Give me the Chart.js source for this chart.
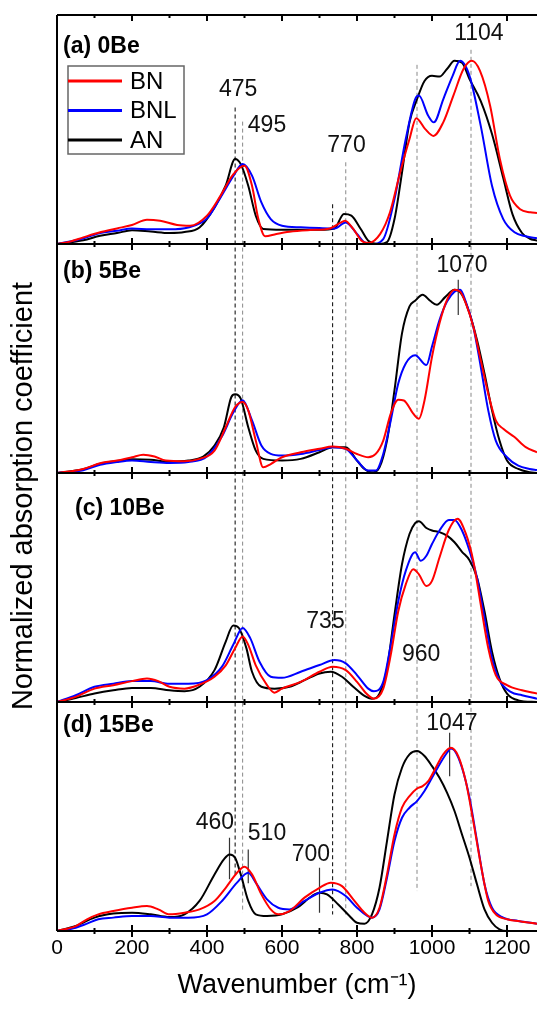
<!DOCTYPE html>
<html lang="en">
<head>
<meta charset="utf-8">
<title>Normalized absorption coefficient</title>
<script src="https://cdn.jsdelivr.net/npm/chart.js@4.4.1/dist/chart.umd.min.js"></script>
<style>
  html, body { margin: 0; padding: 0; background: #fff; overflow: hidden; }
  #wrap { position: relative; width: 537px; height: 1012px; }
</style>
</head>
<body>
<div id="wrap"><canvas id="chart"></canvas></div>
<script>
// panels top to bottom
const panelNames = ['(a) 0Be', '(b) 5Be', '(c) 10Be', '(d) 15Be'];
const panelNameX = [16, 16, 48, 16];
const panelNameV = [1.076, 1.098, 1.057, 1.12];
const seriesNames = ['BN', 'BNL', 'AN'];
const seriesColors = ['#ff0000', '#0000ff', '#000000'];
const yMax = 1.25;

// [wavenumber, normalized absorption]
const aBN = [[0,0],[35,0.013],[70,0.036],[115,0.064],[160,0.085],[200,0.104],[240,0.133],[275,0.127],[320,0.104],[355,0.1],[400,0.155],[435,0.26],[470,0.38],[500,0.427],[520,0.318],[537,0.136],[555,0.042],[585,0.055],[620,0.067],[675,0.076],[728,0.085],[755,0.115],[768,0.127],[790,0.082],[812,0.018],[830,0.005],[862,0.055],[888,0.173],[915,0.39],[940,0.573],[958,0.687],[982,0.627],[1004,0.59],[1030,0.664],[1057,0.81],[1084,0.955],[1106,1.0],[1128,0.945],[1155,0.755],[1181,0.464],[1208,0.264],[1235,0.19],[1262,0.173],[1280,0.169]];
const aBNL = [[0,0],[70,0.03],[115,0.06],[160,0.072],[200,0.085],[250,0.08],[300,0.08],[350,0.09],[400,0.14],[435,0.25],[470,0.37],[495,0.436],[520,0.373],[545,0.227],[570,0.136],[600,0.1],[650,0.091],[700,0.087],[740,0.085],[770,0.118],[800,0.055],[820,0.009],[840,0],[870,0.027],[900,0.245],[930,0.573],[955,0.79],[965,0.81],[990,0.7],[1005,0.664],[1030,0.79],[1055,0.918],[1075,1.0],[1100,0.918],[1130,0.645],[1160,0.318],[1190,0.136],[1220,0.064],[1250,0.042],[1280,0.031]];
const aAN = [[0,0],[70,0.02],[115,0.045],[160,0.06],[200,0.075],[250,0.068],[300,0.06],[340,0.065],[380,0.09],[420,0.2],[450,0.32],[475,0.464],[490,0.436],[510,0.318],[530,0.155],[550,0.082],[600,0.078],[650,0.078],[700,0.078],[740,0.085],[765,0.164],[785,0.155],[810,0.082],[830,0.018],[860,0],[880,0.01],[900,0.136],[920,0.39],[940,0.664],[960,0.79],[980,0.89],[1000,0.918],[1020,0.914],[1040,0.955],[1060,1.0],[1080,0.99],[1100,0.9],[1130,0.78],[1160,0.6],[1190,0.36],[1215,0.16],[1240,0.06],[1260,0.03],[1280,0.018]];

const bBN = [[0,0],[70,0.022],[115,0.053],[160,0.068],[200,0.086],[230,0.1],[260,0.09],[290,0.068],[340,0.064],[380,0.077],[420,0.122],[450,0.25],[475,0.36],[495,0.388],[510,0.342],[530,0.177],[550,0.031],[570,0.049],[600,0.086],[650,0.113],[700,0.132],[735,0.144],[770,0.132],[800,0.104],[830,0.086],[850,0.104],[870,0.177],[890,0.324],[910,0.4],[925,0.396],[950,0.324],[965,0.296],[980,0.396],[1000,0.634],[1020,0.817],[1040,0.945],[1060,1.0],[1075,0.99],[1090,0.927],[1110,0.8],[1130,0.616],[1150,0.433],[1170,0.287],[1190,0.241],[1220,0.196],[1250,0.141],[1280,0.113]];
const bBNL = [[0,0],[70,0.015],[115,0.045],[160,0.06],[200,0.068],[250,0.06],[300,0.055],[350,0.06],[400,0.09],[440,0.2],[470,0.33],[495,0.397],[520,0.287],[545,0.15],[570,0.104],[600,0.095],[650,0.104],[700,0.126],[735,0.141],[770,0.132],[800,0.068],[830,0.013],[850,0.013],[870,0.104],[890,0.287],[910,0.488],[930,0.598],[955,0.643],[985,0.589],[1000,0.69],[1020,0.835],[1040,0.936],[1060,0.99],[1075,1.0],[1090,0.936],[1110,0.8],[1130,0.58],[1150,0.342],[1170,0.177],[1200,0.086],[1230,0.04],[1260,0.022],[1280,0.016]];
const bAN = [[0,0],[70,0.02],[115,0.05],[160,0.065],[200,0.075],[250,0.072],[300,0.062],[350,0.068],[390,0.09],[420,0.15],[445,0.25],[465,0.415],[475,0.43],[490,0.406],[510,0.25],[530,0.122],[550,0.077],[600,0.068],[650,0.077],[700,0.113],[735,0.141],[770,0.141],[800,0.068],[820,0.022],[840,0.004],[860,0.031],[880,0.177],[900,0.452],[920,0.762],[940,0.909],[955,0.94],[975,0.973],[995,0.94],[1013,0.918],[1035,0.96],[1060,1.0],[1080,0.973],[1100,0.872],[1120,0.726],[1140,0.543],[1160,0.342],[1180,0.177],[1200,0.068],[1230,0.022],[1260,0.004],[1280,0]];

const cBN = [[0,0],[50,0.028],[100,0.073],[150,0.092],[200,0.114],[240,0.128],[270,0.114],[300,0.083],[340,0.073],[380,0.095],[420,0.138],[450,0.2],[475,0.294],[495,0.358],[510,0.312],[530,0.2],[560,0.092],[580,0.051],[600,0.073],[650,0.11],[700,0.165],[735,0.193],[770,0.174],[800,0.11],[825,0.046],[845,0.018],[870,0.073],[890,0.257],[910,0.495],[930,0.642],[950,0.725],[965,0.697],[985,0.633],[1000,0.661],[1020,0.789],[1045,0.94],[1068,1.0],[1090,0.92],[1110,0.771],[1130,0.532],[1150,0.294],[1170,0.147],[1200,0.092],[1240,0.064],[1280,0.046]];
const cBNL = [[0,0],[50,0.037],[100,0.083],[150,0.1],[200,0.114],[250,0.114],[300,0.1],[350,0.1],[400,0.12],[440,0.193],[470,0.312],[495,0.404],[515,0.35],[540,0.22],[570,0.138],[600,0.132],[650,0.165],[700,0.202],[740,0.229],[770,0.211],[800,0.147],[830,0.073],[845,0.059],[870,0.11],[890,0.312],[910,0.55],[930,0.716],[955,0.817],[970,0.771],[985,0.798],[1000,0.862],[1020,0.936],[1045,0.994],[1060,0.994],[1080,0.936],[1100,0.826],[1120,0.679],[1140,0.459],[1160,0.239],[1180,0.119],[1210,0.055],[1240,0.037],[1280,0.018]];
const cAN = [[0,0],[50,0.022],[100,0.046],[150,0.064],[200,0.077],[250,0.077],[300,0.064],[340,0.059],[380,0.083],[420,0.174],[450,0.33],[470,0.418],[485,0.404],[505,0.294],[520,0.165],[545,0.083],[580,0.073],[620,0.083],[660,0.119],[700,0.156],[730,0.165],[760,0.138],[790,0.083],[820,0.033],[840,0.018],[860,0.046],[880,0.183],[900,0.477],[920,0.752],[940,0.917],[955,0.976],[965,0.987],[985,0.95],[1000,0.936],[1020,0.927],[1040,0.908],[1060,0.872],[1080,0.82],[1100,0.774],[1120,0.68],[1140,0.495],[1160,0.275],[1180,0.128],[1200,0.046],[1230,0.009],[1280,0]];

const dBN = [[0,0],[50,0.027],[80,0.064],[110,0.091],[150,0.109],[200,0.127],[240,0.136],[270,0.118],[300,0.091],[340,0.1],[380,0.118],[420,0.164],[450,0.236],[480,0.318],[500,0.351],[520,0.309],[545,0.2],[570,0.118],[590,0.091],[620,0.109],[660,0.182],[700,0.236],[730,0.264],[760,0.245],[790,0.173],[820,0.1],[840,0.073],[860,0.127],[880,0.309],[900,0.527],[920,0.673],[940,0.736],[960,0.778],[975,0.791],[990,0.818],[1010,0.891],[1030,0.964],[1050,1.0],[1070,0.955],[1090,0.818],[1110,0.6],[1130,0.364],[1150,0.164],[1170,0.091],[1200,0.064],[1240,0.051],[1280,0.04]];
const dBNL = [[0,0],[50,0.018],[80,0.04],[110,0.064],[150,0.073],[200,0.082],[250,0.082],[300,0.073],[350,0.073],[400,0.091],[440,0.164],[480,0.264],[510,0.318],[530,0.264],[560,0.173],[590,0.127],[620,0.118],[660,0.164],[700,0.209],[735,0.227],[770,0.191],[800,0.127],[840,0.073],[860,0.118],[880,0.291],[900,0.491],[920,0.618],[940,0.673],[960,0.709],[980,0.764],[1000,0.836],[1020,0.909],[1040,0.973],[1050,0.996],[1060,0.985],[1080,0.891],[1100,0.727],[1120,0.491],[1140,0.255],[1160,0.127],[1190,0.073],[1230,0.055],[1280,0.04]];
const dAN = [[0,0],[50,0.027],[100,0.073],[150,0.095],[200,0.1],[250,0.091],[300,0.076],[340,0.091],[380,0.164],[420,0.309],[445,0.391],[460,0.418],[475,0.4],[490,0.309],[510,0.164],[530,0.091],[560,0.082],[600,0.091],[640,0.127],[680,0.191],[700,0.209],[720,0.2],[750,0.145],[780,0.082],[800,0.045],[820,0.04],[840,0.091],[860,0.236],[880,0.491],[900,0.745],[920,0.891],[940,0.964],[960,0.982],[980,0.955],[1000,0.9],[1020,0.836],[1040,0.755],[1060,0.655],[1080,0.527],[1100,0.4],[1120,0.255],[1140,0.118],[1160,0.045],[1180,0.009],[1200,0],[1280,0]];

// dashed guides, from a height in panel (a) down to a height in panel (d)
const guideX = [475, 495, 735, 770, 960, 1104];
const guideTop = [0.745, 0.668, 0.217, 0.446, 0.978, 1.06];
const guideBottom = [0.3, 0.1, 0.09, 0.09, 0.218, 0.245];
const guideColor = ['#000000', '#888888', '#000000', '#888888', '#888888', '#888888'];

// short solid markers under some peak labels
const markPanel = [1, 3, 3, 3, 3];
const markX = [1070, 460, 510, 700, 1047];
const markTop = [1.055, 0.509, 0.445, 0.345, 1.082];
const markBottom = [0.863, 0.282, 0.26, 0.1, 0.845];

// peak labels
const noteText = ['475', '495', '770', '1104', '1070', '735', '960', '460', '510', '700', '1047'];
const notePanel = [0, 0, 0, 0, 1, 2, 2, 3, 3, 3, 3];
const noteX = [483, 560, 772, 1125, 1080, 716, 971, 421, 560, 677, 1053];
const noteV = [0.842, 0.647, 0.538, 1.147, 1.133, 0.44, 0.26, 0.594, 0.533, 0.418, 1.133];

const panelData = [[aBN, aBNL, aAN], [bBN, bBNL, bAN], [cBN, cBNL, cAN], [dBN, dBNL, dAN]];
const panelIds = ['pa', 'pb', 'pc', 'pd'];
const FONT = "'Liberation Sans', Arial, sans-serif";

// height in a panel -> position on the full-height axis
function toAll(p, v) { return (3 - p) + v / yMax; }

var datasets = [];
seriesNames.forEach(function(name, s) {
  panelData.forEach(function(rows, p) {
    datasets.push({
      label: name,
      data: rows[s].map(r => ({x: r[0], y: r[1]})),
      yAxisID: panelIds[p],
      borderColor: seriesColors[s],
      borderWidth: 2,
      pointRadius: 0,
      cubicInterpolationMode: 'monotone',
      fill: false
    });
  });
});
guideX.forEach(function(x, i) {
  datasets.push({
    data: [{x: x, y: toAll(0, guideTop[i])}, {x: x, y: toAll(3, guideBottom[i])}],
    yAxisID: 'all',
    borderColor: guideColor[i],
    borderWidth: 1,
    borderDash: [4, 3],
    pointRadius: 0
  });
});
markX.forEach(function(x, i) {
  datasets.push({
    data: [{x: x, y: toAll(markPanel[i], markTop[i])}, {x: x, y: toAll(markPanel[i], markBottom[i])}],
    yAxisID: 'all',
    borderColor: '#333333',
    borderWidth: 1.2,
    pointRadius: 0
  });
});

// frames + inward ticks for each panel
const panelFrame = {
  id: 'panelFrame',
  afterDatasetsDraw(chart) {
    const {ctx, chartArea, scales} = chart;
    const xs = scales.x;
    ctx.save();
    ctx.strokeStyle = '#000';
    ctx.lineWidth = 2;
    panelIds.forEach(function(id, p) {
      const s = scales[id];
      ctx.beginPath();
      ctx.moveTo(chartArea.left, s.top); ctx.lineTo(chartArea.right, s.top);
      ctx.moveTo(chartArea.left, s.bottom); ctx.lineTo(chartArea.right, s.bottom);
      ctx.moveTo(chartArea.left, s.top); ctx.lineTo(chartArea.left, s.bottom);
      ctx.stroke();
      xs.ticks.forEach(function(t) {
        if (t.value % 100 !== 0 || t.value === 0) return;
        const px = xs.getPixelForValue(t.value);
        const len = t.value % 200 === 0 ? 6 : 3;
        ctx.beginPath();
        ctx.moveTo(px, s.top); ctx.lineTo(px, s.top + len);
        ctx.moveTo(px, s.bottom); ctx.lineTo(px, s.bottom - len);
        if (p === 3) { ctx.moveTo(px, s.bottom); ctx.lineTo(px, s.bottom + len); }
        ctx.stroke();
      });
    });
    ctx.restore();
  }
};

// labels, legend, y title
const labels = {
  id: 'labels',
  afterDraw(chart) {
    const {ctx, chartArea, scales} = chart;
    const xs = scales.x;
    ctx.save();
    ctx.fillStyle = '#000';
    ctx.textBaseline = 'middle';

    ctx.font = 'bold 23px ' + FONT;
    ctx.textAlign = 'left';
    panelNames.forEach(function(t, p) {
      ctx.fillText(t, xs.getPixelForValue(panelNameX[p]), scales[panelIds[p]].getPixelForValue(panelNameV[p]));
    });

    ctx.font = '23px ' + FONT;
    ctx.textAlign = 'center';
    ctx.fillStyle = '#111';
    noteText.forEach(function(t, i) {
      ctx.fillText(t, xs.getPixelForValue(noteX[i]), scales[panelIds[notePanel[i]]].getPixelForValue(noteV[i]));
    });

    // legend in panel (a)
    const bx = chartArea.left + 11, by = scales.pa.top + 51;
    ctx.strokeStyle = '#666';
    ctx.lineWidth = 1.5;
    ctx.strokeRect(bx, by, 116, 88);
    ctx.font = '24px ' + FONT;
    ctx.textAlign = 'left';
    ctx.fillStyle = '#000';
    seriesNames.forEach(function(name, s) {
      const ly = by + 15 + s * 29.5;
      ctx.strokeStyle = seriesColors[s];
      ctx.lineWidth = 3;
      ctx.beginPath();
      ctx.moveTo(bx, ly); ctx.lineTo(bx + 54, ly);
      ctx.stroke();
      ctx.fillText(name, bx + 62, ly + 1);
    });

    // y axis title
    ctx.translate(chartArea.left - 33, (chartArea.top + chartArea.bottom) / 2 + 23);
    ctx.rotate(-Math.PI / 2);
    ctx.font = '29px ' + FONT;
    ctx.textAlign = 'center';
    ctx.fillText('Normalized absorption coefficient', 0, 0);
    ctx.restore();
  }
};

var panelScale = {type: 'linear', display: false, stack: 'panels', stackWeight: 1, min: 0, max: yMax};

new Chart(document.getElementById('chart'), {
  type: 'line',
  data: {datasets: datasets},
  options: {
    responsive: true,
    maintainAspectRatio: false,
    animation: false,
    layout: {padding: {left: 57, top: 15, right: 0, bottom: 0}},
    plugins: {legend: {display: false}, tooltip: {enabled: false}},
    scales: {
      x: {
        type: 'linear', min: 0, max: 1280,
        ticks: {stepSize: 100, includeBounds: false, autoSkip: false, maxRotation: 0, padding: 5,
                color: '#000', font: {family: FONT, size: 21},
                callback: v => (v % 200 === 0 ? v : '')},
        grid: {display: false, drawTicks: false},
        border: {display: false},
        title: {display: true, text: 'Wavenumber (cm\u207B\u00B9)', color: '#000',
                font: {family: FONT, size: 27}, padding: {top: 0, bottom: 10}},
        afterFit: s => { s.height = 81; }
      },
      pd: Object.assign({}, panelScale),
      pc: Object.assign({}, panelScale),
      pb: Object.assign({}, panelScale),
      pa: Object.assign({}, panelScale),
      all: {type: 'linear', display: false, min: 0, max: 4}
    }
  },
  plugins: [panelFrame, labels]
});
</script>
</body>
</html>
